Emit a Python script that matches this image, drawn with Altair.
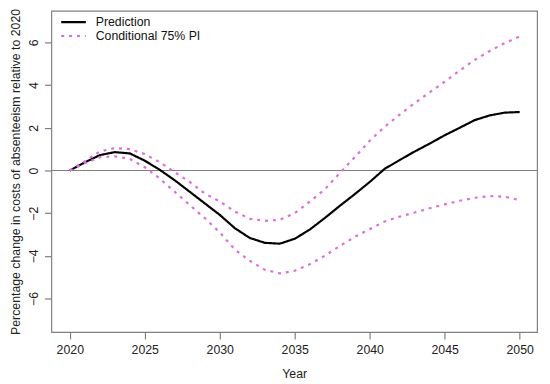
import altair as alt
import pandas as pd

years = list(range(2020, 2051))
prediction = [0.0, 0.38, 0.72, 0.86, 0.8, 0.46, 0.03, -0.46, -1.0, -1.54, -2.08,
              -2.7, -3.16, -3.39, -3.43, -3.2, -2.77, -2.23, -1.66, -1.11, -0.54,
              0.08, 0.49, 0.89, 1.26, 1.65, 2.0, 2.36, 2.58, 2.71, 2.74]
upper = [0.0, 0.43, 0.89, 1.05, 1.0, 0.77, 0.39, -0.08, -0.54, -1.08, -1.45,
         -1.92, -2.26, -2.36, -2.31, -2.0, -1.46, -0.89, -0.12, 0.62, 1.39,
         2.05, 2.62, 3.16, 3.66, 4.16, 4.68, 5.18, 5.6, 5.97, 6.28]
lower = [0.0, 0.34, 0.62, 0.66, 0.54, 0.15, -0.38, -1.0, -1.62, -2.23, -2.9,
         -3.7, -4.23, -4.65, -4.82, -4.7, -4.39, -4.0, -3.54, -3.11, -2.75,
         -2.39, -2.16, -1.97, -1.77, -1.59, -1.42, -1.28, -1.2, -1.23, -1.39]
series_names = ["Prediction", "Conditional 75% PI"]
x_ticks = [2020, 2025, 2030, 2035, 2040, 2045, 2050]
y_ticks = [-6, -4, -2, 0, 2, 4, 6]

rows = []
for y, p, u, l in zip(years, prediction, upper, lower):
    rows.append({"year": y, "value": p, "series": series_names[0], "line": "pred"})
    rows.append({"year": y, "value": u, "series": series_names[1], "line": "upper"})
    rows.append({"year": y, "value": l, "series": series_names[1], "line": "lower"})
df = pd.DataFrame(rows)

FONT = "Liberation Sans"
GRAY = "#808080"

x_scale = alt.Scale(domain=[2018.77, 2051.16], nice=False, zero=False)
y_scale = alt.Scale(domain=[-7.57, 7.48], nice=False, zero=False)

legend_kw = dict(title=None, orient="none", legendX=15, legendY=4,
                 symbolType="M-2,0H2", symbolSize=156, symbolStrokeWidth=2.2,
                 labelFont=FONT, labelFontSize=12.5, labelColor="#111",
                 labelOffset=15, rowPadding=-3, padding=0)

zero_line = alt.Chart(pd.DataFrame({"z": [0]})).mark_rule(
    color=GRAY, strokeWidth=1.2
).encode(y=alt.Y("z:Q", scale=y_scale))

lines = alt.Chart(df).mark_line(strokeWidth=2.2, clip=True).encode(
    x=alt.X("year:Q", scale=x_scale,
            axis=alt.Axis(values=x_ticks, format="d", title="Year", grid=False,
                          domain=False, tickColor=GRAY, tickSize=7, tickWidth=1.2,
                          labelFontSize=12.5, labelFont=FONT, labelColor="#222",
                          labelPadding=5, titleFont=FONT, titleFontSize=12.5,
                          titleFontWeight="normal", titleColor="#222",
                          titleY=42, titleBaseline="middle")),
    y=alt.Y("value:Q", scale=y_scale,
            axis=alt.Axis(values=y_ticks, grid=False, domain=False,
                          tickColor=GRAY, tickSize=7, tickWidth=1.2,
                          labelAngle=-90, labelAlign="center", labelBaseline="bottom",
                          labelFontSize=12.5, labelFont=FONT, labelColor="#222",
                          labelPadding=4,
                          title="Percentage change in costs of absenteeism relative to 2020",
                          titleFont=FONT, titleFontSize=12.5, titleFontWeight="normal",
                          titleColor="#222", titleAngle=-90, titleX=-36, titleY=163,
                          titleAlign="center", titleBaseline="middle")),
    color=alt.Color("series:N",
                    scale=alt.Scale(domain=series_names, range=["#000000", "#DD6FDD"]),
                    legend=alt.Legend(**legend_kw)),
    strokeDash=alt.StrokeDash("series:N",
                              scale=alt.Scale(domain=series_names, range=[[1, 0], [3, 5]]),
                              legend=alt.Legend(**legend_kw)),
    detail="line:N",
)

chart = alt.layer(zero_line, lines).properties(
    width=493, height=326,
    autosize=alt.AutoSizeParams(type="none"),
    padding={"left": 44, "top": 0, "right": 5, "bottom": 60},
).configure_view(stroke=GRAY, strokeWidth=1.2)

chart.save("out.html", embed_options={"renderer": "svg", "actions": False})
